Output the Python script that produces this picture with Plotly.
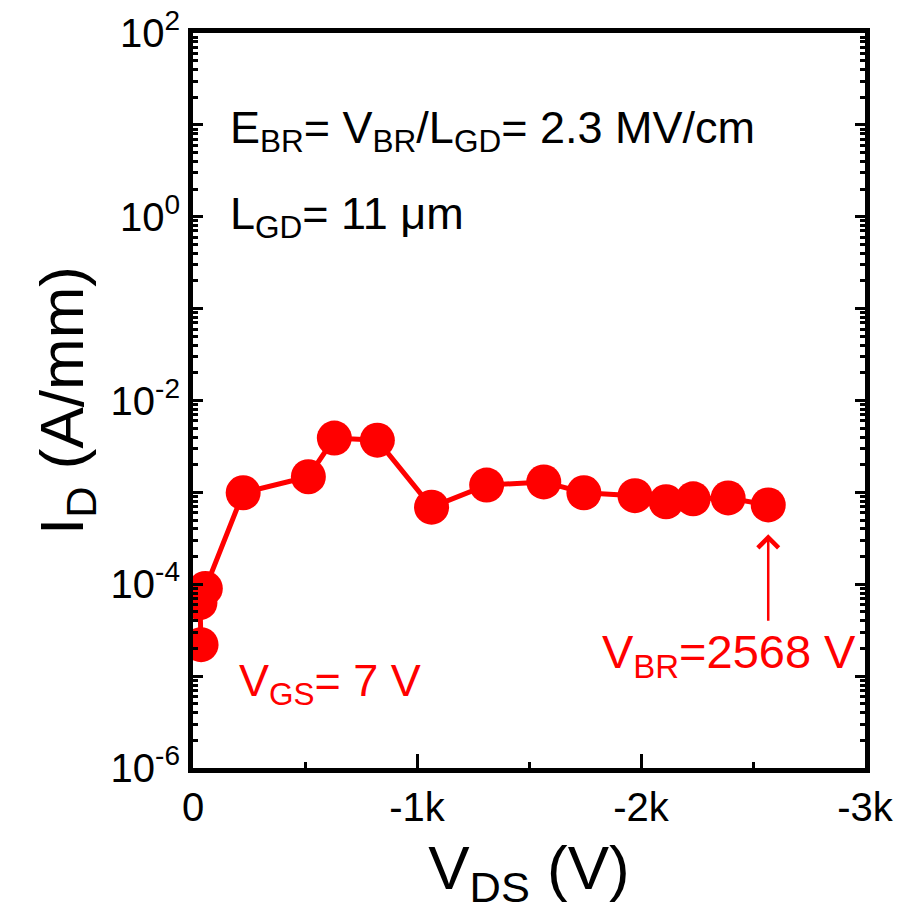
import numpy as np
import plotly.graph_objects as go

# Data
vds = [-36, -31, -55, -224, -515, -631, -823, -1065, -1311, -1566, -1745, -1973, -2112, -2233, -2389, -2568]
i_d = [2.2e-5, 6.3e-5, 9.0e-5, 9.9e-4, 1.48e-3, 3.9e-3, 3.7e-3, 6.9e-4, 1.2e-3, 1.3e-3, 9.9e-4, 9.2e-4, 7.9e-4, 8.5e-4, 8.7e-4, 7.3e-4]

x_tickvals = [0, -1000, -2000, -3000]
x_ticktext = ["0", "-1k", "-2k", "-3k"]
x_minor = [-500, -1500, -2500]

decades = list(range(-6, 3))
y_tickvals = [10.0 ** d for d in decades]
y_ticktext = [("10<sup>%d</sup>" % d) if d % 2 == 0 else "" for d in decades]
y_minor = [m * 10.0 ** d for d in decades[:-1] for m in range(2, 10)]

v_br = -2568
i_br_head = 3.5e-4

FONT = "Liberation Sans, Arial, sans-serif"
RED = "#ff0000"

fig = go.Figure()
fig.add_trace(go.Scatter(
    x=vds, y=i_d, mode="lines+markers",
    line=dict(color=RED, width=5),
    marker=dict(color=RED, size=35),
    cliponaxis=True, showlegend=False,
))

fig.update_layout(
    width=897, height=911,
    margin=dict(l=193, r=32, t=33, b=143),
    plot_bgcolor="white", paper_bgcolor="white",
    font=dict(family=FONT, color="black", size=40),
    xaxis=dict(
        range=[0, -3000], tickvals=x_tickvals, ticktext=x_ticktext,
        ticks="inside", ticklen=14, tickwidth=3, tickcolor="black",
        showline=True, linewidth=5, linecolor="black", mirror=True,
        showgrid=False, zeroline=False, automargin=False,
        tickfont=dict(size=40, family=FONT),
        minor=dict(tickvals=x_minor, ticks="inside", ticklen=6, tickwidth=3, tickcolor="black", showgrid=False),
        title=dict(text="V<sub>DS</sub> (V)", font=dict(size=62, family=FONT), standoff=20),
    ),
    yaxis=dict(
        type="log", range=[-6, 2], tickvals=y_tickvals, ticktext=y_ticktext,
        ticks="inside", ticklen=10, tickwidth=3, tickcolor="black",
        showline=True, linewidth=5, linecolor="black", mirror="ticks",
        showgrid=False, zeroline=False, automargin=False,
        tickfont=dict(size=40, family=FONT),
        minor=dict(tickvals=y_minor, ticks="inside", ticklen=5, tickwidth=3, tickcolor="black", showgrid=False),
        title=dict(text="I<sub>D</sub> (A/mm)", font=dict(size=62, family=FONT), standoff=8),
    ),
)

fig.add_annotation(
    xref="paper", yref="paper", x=0.052, y=(768 - 130) / 735, xanchor="left", yanchor="middle",
    text="E<sub>BR</sub>= V<sub>BR</sub>/L<sub>GD</sub>= 2.3 MV/cm", showarrow=False,
    font=dict(size=45, family=FONT, color="black"),
)
fig.add_annotation(
    xref="paper", yref="paper", x=0.052, y=(768 - 217) / 735, xanchor="left", yanchor="middle",
    text="L<sub>GD</sub>= 11 μm", showarrow=False,
    font=dict(size=45, family=FONT, color="black"),
)
fig.add_annotation(
    xref="paper", yref="paper", x=(237 - 193) / 672, y=(768 - 683) / 735, xanchor="left", yanchor="middle",
    text="V<sub>GS</sub>= 7 V", showarrow=False,
    font=dict(size=45, family=FONT, color=RED),
)
fig.add_annotation(
    xref="paper", yref="paper", x=(600 - 193) / 672, y=(768 - 655) / 735, xanchor="left", yanchor="middle",
    text="V<sub>BR</sub>=2568 V", showarrow=False,
    font=dict(size=47, family=FONT, color=RED),
)
fig.add_annotation(
    x=v_br, y=np.log10(i_br_head), xref="x", yref="y",
    ax=0, ay=88, text="", showarrow=True,
    arrowhead=4, arrowsize=1.6, arrowwidth=2.5, arrowcolor=RED,
)

fig.write_html("out.html")
